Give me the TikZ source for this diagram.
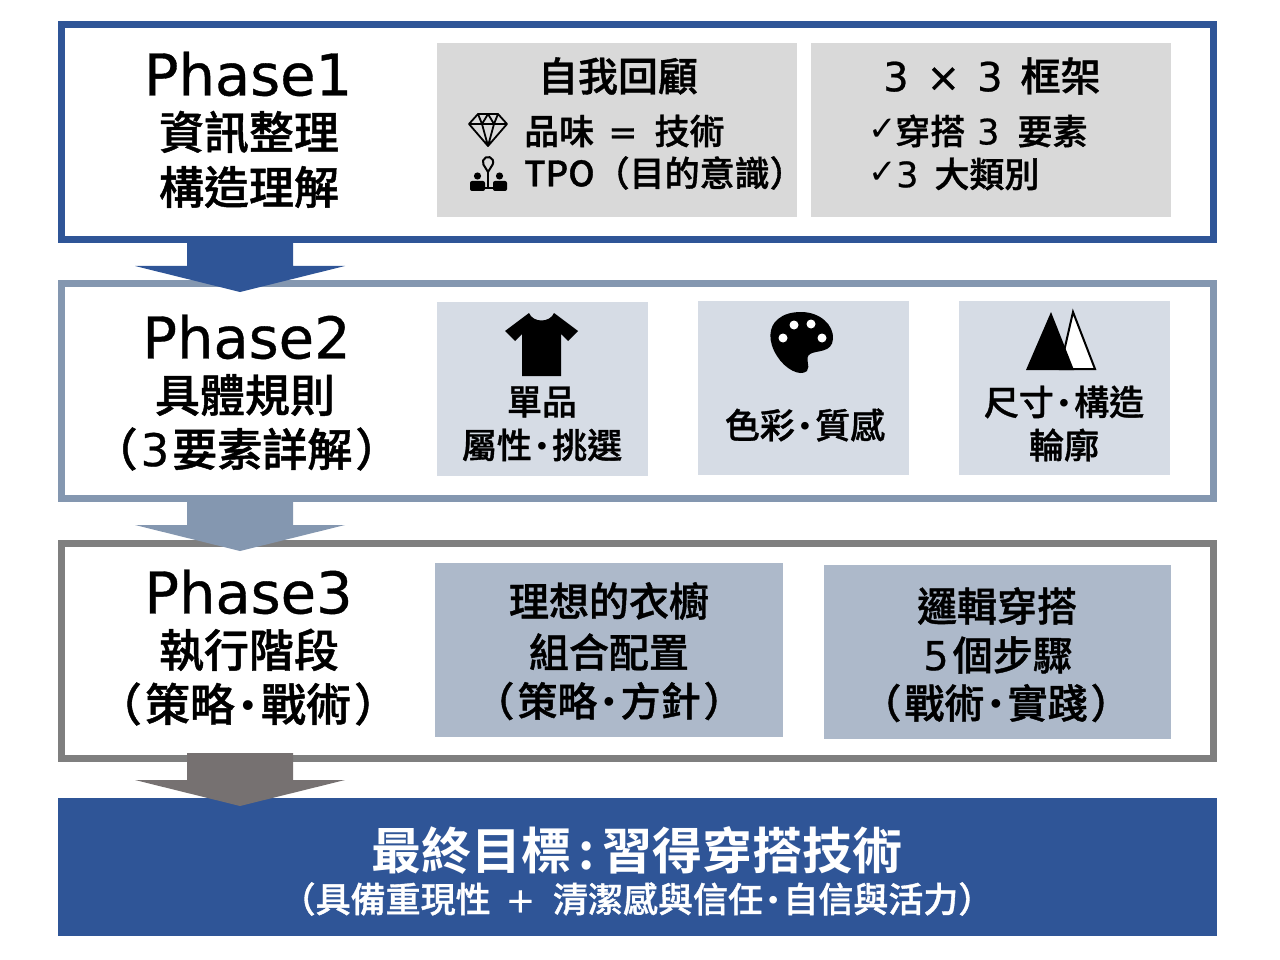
\documentclass[tikz,border=0pt]{standalone}
\usepackage{fontspec}
\setmainfont{Noto Sans CJK TC Medium}[FakeBold=1]
\newfontfamily\boldcjk{Noto Sans CJK TC Bold}
\newfontfamily\latinfont{DejaVu Sans}[FakeBold=0.6]
\newfontfamily\checkfont{DejaVu Sans}
\newfontfamily\dotfont{Liberation Sans}[Scale=0.8]
\usetikzlibrary{calc}
\definecolor{navy}{HTML}{2F5597}
\definecolor{steel}{HTML}{8497B0}
\definecolor{slate}{HTML}{7F7F7F}
\definecolor{umber}{HTML}{767171}
\definecolor{cardgray}{HTML}{D9D9D9}
\definecolor{cardpale}{HTML}{D6DCE5}
\definecolor{cardblue}{HTML}{ADB9CA}
\newcommand{\fsz}[1]{\fontsize{#1}{#1}\selectfont}
\newcommand{\lat}[1]{{\latinfont #1}}
\newcommand{\mdot}{\hbox to .58em{\hss\raisebox{.09em}{\dotfont •}\hss}}
\newcommand{\lp}{（\hspace{3pt}}
\newcommand{\rp}{\hspace{3pt}）}

\begin{document}
\begin{tikzpicture}[
  x=1pt, y=-1pt,
  panel/.style={draw, line width=7pt, fill=white, minimum width=1152pt, minimum height=215pt, inner sep=0pt},
  card/.style={minimum height=174pt, inner sep=0pt},
  phase/.style={font=\latinfont\fsz{57.5}, text=black, inner sep=0pt},
  head/.style={font=\fsz{45}, text=black, inner sep=0pt},
  lbl/.style={font=\fsz{40}, text=black, inner sep=0pt},
  sublbl/.style={font=\fsz{35}, text=black, inner sep=0pt},
  tick/.style={font=\checkfont\fsz{34}, text=black, inner sep=0pt}
]
\useasboundingbox (0,0) rectangle (1280,960);
%--- panels ------------------------------------------------------------------
\node[panel, draw=navy] (p1) at (637.5,132) {};
\node[panel, draw=steel] (p2) at (637.5,391) {};
\node[panel, draw=slate] (p3) at (637.5,650.5) {};
\node[fill=navy, minimum width=1159pt, minimum height=138pt, inner sep=0pt] (goal) at (637.5,867) {};

%--- block arrows ------------------------------------------------------------
\coordinate (t1) at (240,243); \coordinate (h1) at (240,292);
\coordinate (t2) at (240,502); \coordinate (h2) at (240,551);
\coordinate (t3) at (240,753); \coordinate (h3) at (240,806);
\foreach \n/\cc in {1/navy,2/steel,3/umber}
  \fill[\cc] ($(t\n)+(-53,0)$) -- ($(h\n)+(-53,-26)$) -- ($(h\n)+(-105,-26)$) -- (h\n)
    -- ($(h\n)+(105,-26)$) -- ($(h\n)+(53,-26)$) -- ($(t\n)+(53,0)$) -- cycle;

%--- phase 1 -----------------------------------------------------------------
\node[phase] (ph1) at (248,74) {Phase1};
\node[head] (ph1a) at (249,132) {資訊整理};
\node[head] (ph1b) at (249,187) {構造理解};
\node[card, fill=cardgray, minimum width=360pt] (c11) at (617,130) {};
\node[card, fill=cardgray, minimum width=360pt] (c12) at (991,130) {};
\node[lbl] (c11t) at (618,76) {自我回顧};
\node[sublbl, anchor=west] (c11a) at (524,131) {品味\hspace{14pt}\lat{=}\hspace{17pt}技術};
\node[sublbl, anchor=west] (c11b) at (524,173) {TPO（目的意識）};
\node[lbl, anchor=west] (c12t) at (883,76) {\lat{3}\hspace{18pt}\lat{×}\hspace{17pt}\lat{3}\hspace{18pt}框架};
\node[tick, anchor=west] (c12x) at (868,130) {✓};
\node[sublbl, anchor=west] (c12a) at (895,131) {穿搭\hspace{12pt}\lat{3}\hspace{18pt}要素};
\node[tick, anchor=west] (c12y) at (868,173) {✓};
\node[sublbl, anchor=west] (c12b) at (896,174) {\lat{3}\hspace{16pt}大類別};
% diamond
\draw[black, line width=1.8pt, line join=round] (478,114) -- (498,114) -- (507,124) -- (488,146) -- (469,124) -- cycle
  (469,124) -- (507,124) (478,114) -- (482,124) -- (488,146) -- (494,124) -- (498,114) (482,124) -- (488,114) -- (494,124);
% pin and people
\draw[black, line width=2pt] (483.4,164.5) arc (207:-27:5.2pt) -- (488,172) -- cycle;
\draw[black, line width=1.4pt] (488,172) -- (488,188) (481,188) -- (495,188);
\fill[black] (477.5,176) circle (3.6pt) (499.5,176) circle (3.6pt);
\fill[black, rounded corners=2pt] (470,191) rectangle (485,181) (493,191) rectangle (507,181);

%--- phase 2 -----------------------------------------------------------------
\node[phase] (ph2) at (246.5,337) {Phase2};
\node[head] (ph2a) at (245,395) {具體規則};
\node[head] (ph2b) at (246.5,449) {\lp\lat{3}\hspace{3pt}要素詳解\rp};
\node[card, fill=cardpale, minimum width=211pt] (c21) at (542.5,388.5) {};
\node[card, fill=cardpale, minimum width=211pt] (c22) at (803.5,388) {};
\node[card, fill=cardpale, minimum width=211pt] (c23) at (1064.5,388) {};
\node[sublbl] (c21a) at (542,402) {單品};
\node[sublbl] (c21b) at (542,445) {屬性\mdot 挑選};
\node[sublbl] (c22a) at (805,425) {色彩\mdot 質感};
\node[sublbl] (c23a) at (1064,402) {尺寸\mdot 構造};
\node[sublbl] (c23b) at (1064,445) {輪廓};
% shirt
\fill[black] (529,313) .. controls (533,323) and (550,323) .. (554,313) -- (578,331) -- (568,341) -- (561,334)
  -- (561,376) -- (522,376) -- (522,334) -- (515,341) -- (505,331) -- cycle;
% palette
\fill[black] (801,312) .. controls (820,312) and (834,325) .. (833,339)
  .. controls (832,353) and (817,350) .. (810,354) .. controls (804,358) and (811,366) .. (807,371)
  .. controls (800,377) and (785,369) .. (777,356) .. controls (768,342) and (768,327) .. (778,319)
  .. controls (784,314) and (792,312) .. (801,312) -- cycle;
\fill[white] (794,325) ellipse (4.5pt and 4.5pt) (811,324) ellipse (4.5pt and 4.5pt)
  (783,338) ellipse (4.5pt and 4.5pt) (822,338) ellipse (4.5pt and 4.5pt);
% mountains
\draw[black, fill=white, line width=2pt, line join=miter] (1073,312) -- (1095,369) -- (1060,369) -- cycle;
\fill[black] (1051,312) -- (1074,370) -- (1026,370) -- cycle;

%--- phase 3 -----------------------------------------------------------------
\node[phase] (ph3) at (248.5,592) {Phase3};
\node[head] (ph3a) at (249,650) {執行階段};
\node[head] (ph3b) at (248,704) {\lp 策略\mdot 戰術\rp};
\node[card, fill=cardblue, minimum width=348pt] (c31) at (609,649.5) {};
\node[card, fill=cardblue, minimum width=347pt] (c32) at (997.5,651.5) {};
\node[lbl] (c31a) at (609,601) {理想的衣櫥};
\node[lbl] (c31b) at (609,652) {組合配置};
\node[lbl] (c31c) at (609,701) {\lp 策略\mdot 方針\rp};
\node[lbl] (c32a) at (997,606) {邏輯穿搭};
\node[lbl] (c32b) at (998,655) {\lat{5}\hspace{4pt}個步驟};
\node[lbl] (c32c) at (996,703) {\lp 戰術\mdot 實踐\rp};

%--- goal --------------------------------------------------------------------
\node[font=\boldcjk\fsz{50}, text=white, inner sep=0pt] (goal1) at (637,850) {最終目標\hspace{7pt}:\hspace{7pt}習得穿搭技術};
\node[font=\fsz{35}, text=white, inner sep=0pt] (goal2) at (637,899) {（具備重現性\hspace{15pt}\lat{+}\hspace{18pt}清潔感與信任\mdot 自信與活力）};
\end{tikzpicture}
\end{document}
